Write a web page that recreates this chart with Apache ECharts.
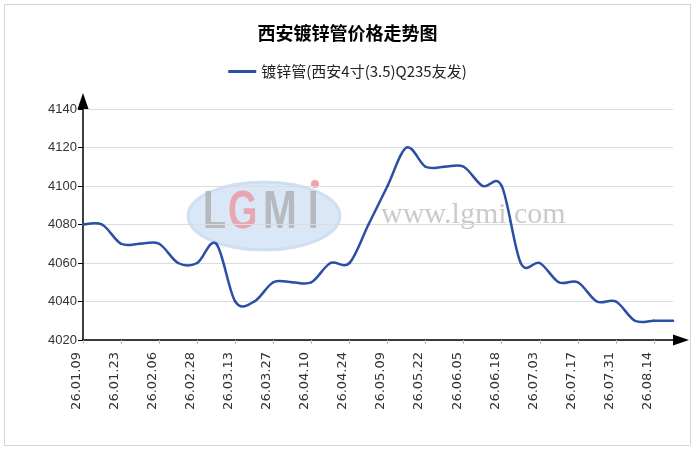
<!DOCTYPE html>
<html>
<head>
<meta charset="utf-8">
<script src="https://cdn.jsdelivr.net/npm/echarts@6/dist/echarts.min.js"></script>
<style>
html,body{margin:0;padding:0;background:#fff;}
#chart{width:695px;height:451px;}
</style>
</head>
<body>
<div id="chart"></div>
<script>
var titleText = '西安镀锌管价格走势图';
var seriesName = '镀锌管(西安4寸(3.5)Q235友发)';
var categories = [
  '26.01.09','26.01.16','26.01.23','26.01.30','26.02.06','26.02.13','26.02.28','26.03.06',
  '26.03.13','26.03.20','26.03.27','26.04.03','26.04.10','26.04.17','26.04.24','26.04.30',
  '26.05.09','26.05.15','26.05.22','26.05.29','26.06.05','26.06.12','26.06.18','26.06.26',
  '26.07.03','26.07.10','26.07.17','26.07.24','26.07.31','26.08.07','26.08.14','26.08.21'
];
var prices = [
  4080, 4080, 4070, 4070, 4070, 4060, 4060, 4070,
  4040, 4040, 4050, 4050, 4050, 4060, 4060, 4080,
  4100, 4120, 4110, 4110, 4110, 4100, 4100, 4060,
  4060, 4050, 4050, 4040, 4040, 4030, 4030, 4030
];
var yMin = 4020, yMax = 4140, yStep = 20;
var lineColor = '#2a4fa5';

// smooth spline through the data points (Catmull-Rom), positions from the axes via api.coord
function renderSpline(params, api) {
  var i = params.dataIndex;
  var n = prices.length;
  if (i >= n - 1) return null;
  function P(k) {
    k = Math.max(0, Math.min(n - 1, k));
    return api.coord([k, prices[k]]);
  }
  var p0 = P(i - 1), p1 = P(i), p2 = P(i + 1), p3 = P(i + 2);
  return {
    type: 'bezierCurve',
    shape: {
      x1: p1[0], y1: p1[1], x2: p2[0], y2: p2[1],
      cpx1: p1[0] + (p2[0] - p0[0]) / 6, cpy1: p1[1] + (p2[1] - p0[1]) / 6,
      cpx2: p2[0] - (p3[0] - p1[0]) / 6, cpy2: p2[1] - (p3[1] - p1[1]) / 6
    },
    style: {stroke: lineColor, lineWidth: 2.5, fill: 'none', lineCap: 'round'}
  };
}

var wmFont = 'bold 54px "Liberation Sans"';
var chart = echarts.init(document.getElementById('chart'));
chart.setOption({
  backgroundColor: '#fff',
  animation: false,
  title: {
    text: titleText,
    left: 'center',
    top: 19,
    textStyle: {fontSize: 18, fontWeight: 'bold', color: '#000', fontFamily: 'Noto Sans CJK SC'}
  },
  legend: {
    data: [seriesName],
    top: 59,
    left: 'center',
    itemWidth: 28,
    itemHeight: 3,
    icon: 'rect',
    itemGap: 5,
    textStyle: {fontSize: 15, color: '#222', fontFamily: 'Noto Sans CJK SC'}
  },
  graphic: [
    {type: 'rect', z: -10, silent: true, shape: {x: 4.5, y: 4.5, width: 686, height: 441},
      style: {fill: 'none', stroke: '#d4d4d4', lineWidth: 1}},
    {type: 'ellipse', z: -5, silent: true, shape: {cx: 264, cy: 216, rx: 76, ry: 34},
      style: {fill: 'rgba(180,208,238,0.5)', stroke: 'rgba(200,218,240,0.8)', lineWidth: 3}},
    {type: 'text', z: -4, silent: true, x: 203, y: 186, scaleX: 0.7,
      style: {text: 'L', font: wmFont, fill: 'rgba(170,170,170,0.75)', verticalAlign: 'top'}},
    {type: 'text', z: -4, silent: true, x: 228, y: 186, scaleX: 0.7,
      style: {text: 'G', font: wmFont, fill: 'rgba(240,130,140,0.65)', verticalAlign: 'top'}},
    {type: 'text', z: -4, silent: true, x: 263, y: 186, scaleX: 0.75,
      style: {text: 'M', font: wmFont, fill: 'rgba(170,170,170,0.75)', verticalAlign: 'top'}},
    {type: 'text', z: -4, silent: true, x: 308, y: 186, scaleX: 0.7,
      style: {text: 'I', font: wmFont, fill: 'rgba(170,170,170,0.75)', verticalAlign: 'top'}},
    {type: 'circle', z: -4, silent: true, shape: {cx: 315, cy: 184, r: 4},
      style: {fill: 'rgba(240,130,140,0.75)'}},
    {type: 'text', z: -4, silent: true, left: 381, top: 200,
      style: {text: 'www.lgmi.com', font: '30px "Liberation Serif"', fill: 'rgba(150,150,150,0.5)'}}
  ],
  grid: {left: 83, right: 22, top: 109, bottom: 111, containLabel: false},
  xAxis: {
    type: 'category',
    data: categories,
    boundaryGap: false,
    axisLine: {show: true, lineStyle: {color: '#000', width: 1.5},
      symbol: ['none', 'triangle'], symbolSize: [11, 16], symbolOffset: [0, 8]},
    axisTick: {show: true, interval: 1, length: 4, lineStyle: {color: '#bbb'}},
    axisLabel: {interval: 1, rotate: 90, fontSize: 13, color: '#333',
      fontFamily: 'DejaVu Sans', margin: 12, verticalAlign: 'bottom'},
    splitLine: {show: false}
  },
  yAxis: {
    type: 'value',
    min: yMin, max: yMax, interval: yStep,
    axisLine: {show: true, lineStyle: {color: '#000', width: 1.5},
      symbol: ['none', 'triangle'], symbolSize: [11, 16], symbolOffset: [0, 8]},
    axisTick: {show: true, length: 5, inside: false, lineStyle: {color: '#000'}},
    axisLabel: {fontSize: 13, color: '#333', fontFamily: 'Liberation Sans', margin: 6,
      formatter: function (v) { return String(v); }},
    splitLine: {show: true, lineStyle: {color: '#dcdcdc', width: 1}}
  },
  series: [{
    name: seriesName,
    type: 'custom',
    coordinateSystem: 'cartesian2d',
    data: prices.map(function (v, i) { return [i, v]; }),
    encode: {x: 0, y: 1},
    renderItem: renderSpline,
    itemStyle: {color: lineColor},
    silent: true
  }]
});
</script>
</body>
</html>
